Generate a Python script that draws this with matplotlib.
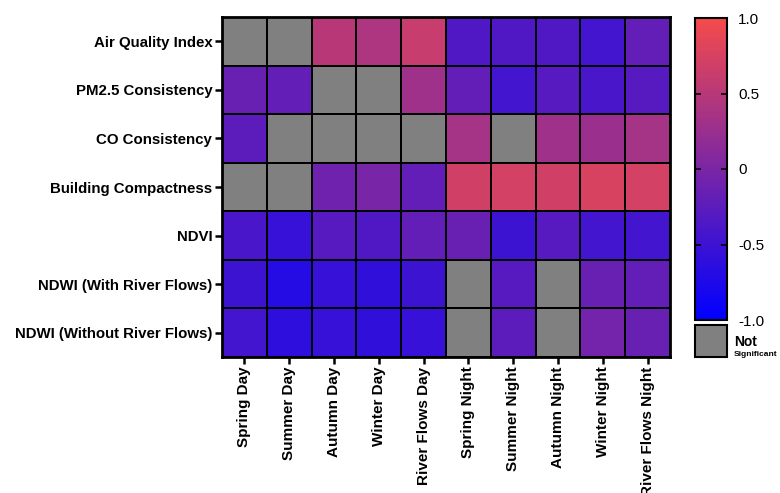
import numpy as np
import matplotlib
matplotlib.use("Agg")
import matplotlib.pyplot as plt
from matplotlib.colors import LinearSegmentedColormap
from matplotlib.patches import Rectangle

plt.rcParams["font.family"] = ["Liberation Sans", "DejaVu Sans"]

rows = [
    "Air Quality Index",
    "PM2.5 Consistency",
    "CO Consistency",
    "Building Compactness",
    "NDVI",
    "NDWI (With River Flows)",
    "NDWI (Without River Flows)",
]
cols = [
    "Spring Day", "Summer Day", "Autumn Day", "Winter Day", "River Flows Day",
    "Spring Night", "Summer Night", "Autumn Night", "Winter Night", "River Flows Night",
]
nan = np.nan
# correlation values, NaN = not significant
values = [
    [nan, nan, 0.50, 0.42, 0.62, -0.35, -0.35, -0.35, -0.45, -0.20],
    [-0.15, -0.20, nan, nan, 0.30, -0.20, -0.45, -0.30, -0.40, -0.30],
    [-0.25, nan, nan, nan, nan, 0.35, nan, 0.30, 0.25, 0.35],
    [nan, nan, -0.10, -0.02, -0.20, 0.70, 0.72, 0.70, 0.75, 0.72],
    [-0.40, -0.55, -0.30, -0.35, -0.20, -0.15, -0.50, -0.30, -0.45, -0.45],
    [-0.50, -0.70, -0.55, -0.60, -0.50, nan, -0.30, nan, -0.15, -0.20],
    [-0.45, -0.62, -0.55, -0.60, -0.55, nan, -0.25, nan, -0.05, -0.15],
]
cbar_ticks = [-1.0, -0.5, 0, 0.5, 1.0]
cbar_labels = ["-1.0", "-0.5", "0", "0.5", "1.0"]

cmap = LinearSegmentedColormap.from_list("br", ["#0000ff", "#f54b4b"])
cmap.set_bad("#808080")
data = np.ma.masked_invalid(np.array(values))

fig = plt.figure(figsize=(7.8, 4.93), dpi=100)
ax = fig.add_axes([222 / 780, 1 - 357 / 493, 448 / 780, 340 / 493])
mesh = ax.pcolormesh(data, cmap=cmap, vmin=-1, vmax=1,
                     edgecolors="black", linewidth=1.4)
ax.set_xlim(0, len(cols))
ax.set_ylim(len(rows), 0)
ax.set_xticks(np.arange(len(cols)) + 0.5)
ax.set_xticklabels(cols, rotation=90, fontsize=11, fontweight="bold")
ax.set_yticks(np.arange(len(rows)) + 0.5)
ax.set_yticklabels(rows, fontsize=10.8, fontweight="bold")
ax.tick_params(length=5, width=1.8, color="black", pad=2)
for sp in ax.spines.values():
    sp.set_linewidth(2)

cax = fig.add_axes([695 / 780, 1 - 320 / 493, 32 / 780, 302 / 493])
cb = fig.colorbar(mesh, cax=cax, ticks=cbar_ticks)
cb.ax.set_yticklabels(cbar_labels, fontsize=11)
cb.ax.tick_params(direction="in", left=True, right=True, length=4, width=1.2, pad=8)
cb.outline.set_linewidth(1.5)

# Not significant box
fig.patches.append(Rectangle((695 / 780, 1 - 357 / 493), 32 / 780, 32 / 493,
                             transform=fig.transFigure, facecolor="#808080",
                             edgecolor="black", linewidth=1.5))
fig.text(734 / 780, 1 - 342 / 493, "Not", fontsize=10, fontweight="bold", va="center")
fig.text(734 / 780, 1 - 354 / 493, "Significant", fontsize=6, fontweight="bold", va="center")

fig.savefig("out.png", dpi=100)
